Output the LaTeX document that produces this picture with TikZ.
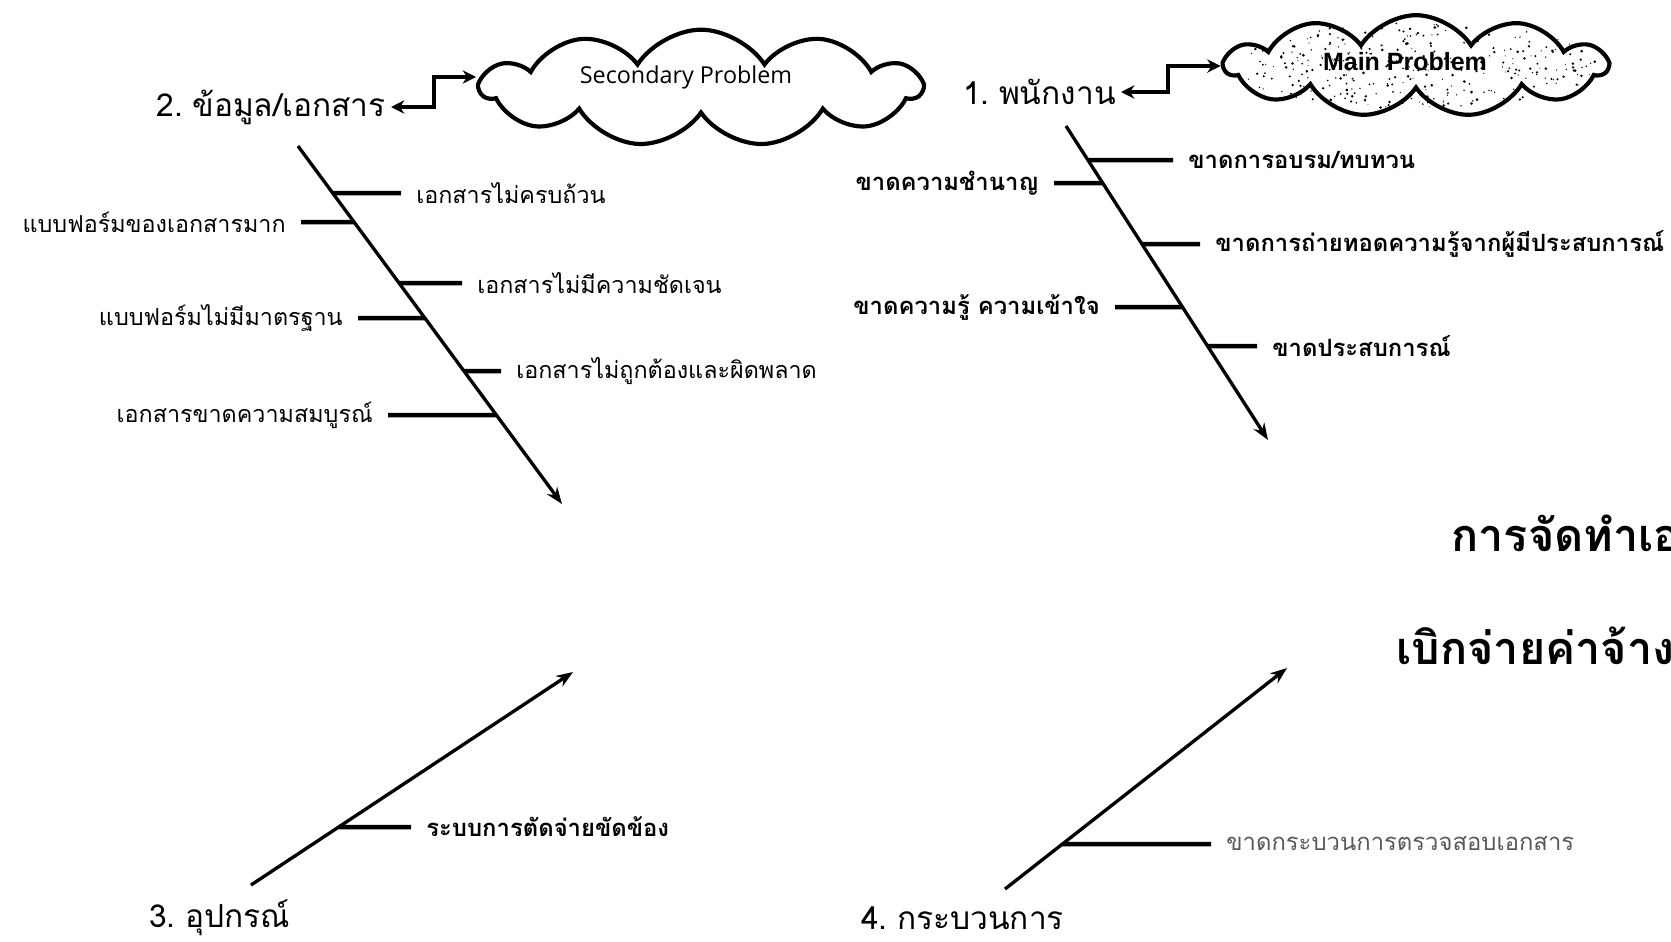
\documentclass[tikz,border=0pt]{standalone}
\usepackage{fontspec}
\setmainfont[Script=Thai]{Loma}
\newfontfamily\latinsans{Open Sans}
\newfontfamily\heavysans{Liberation Sans}
\usetikzlibrary{arrows.meta,shapes.symbols,calc}
\newcommand{\numsp}{\hspace{0.3em}}
\begin{document}
\begin{tikzpicture}[x=0.6pt,y=-0.6pt,
  bone/.style={line width=2pt,-{Stealth[length=10pt,width=7.5pt]}},
  twig/.style={line width=2.7pt,shorten >=9pt},
  link/.style={line width=2.3pt,shorten <=3pt,{Stealth[length=8pt,width=8pt]}-{Stealth[length=8pt,width=8pt]}},
  cat/.style={font=\fontsize{19}{23}\selectfont,inner sep=0pt},
  cause/.style={font=\fontsize{14}{17}\selectfont,inner sep=0pt},
  causeb/.style={font=\bfseries\fontsize{14.3}{17}\selectfont,inner sep=0pt},
  causel/.style={font=\fontsize{14.3}{17}\selectfont,text=black!65,inner sep=0pt},
  title/.style={font=\bfseries\fontsize{27}{32}\selectfont,inner sep=0pt},
  cloudbox/.style={cloud,cloud puffs=11,cloud puff arc=115,cloud ignores aspect,draw,line width=2.5pt,fill=white,inner sep=0pt},
]
\useasboundingbox (0,0) rectangle (1671,941);
\clip (0,0) rectangle (1671,941);

% ---- clouds
\node[cloudbox,minimum width=264pt,minimum height=70pt] (c2) at (701,88) {};
\node[font=\latinsans\fontsize{14}{17}\selectfont] (c2t) at (686,77) {Secondary Problem};
\node[cloudbox,minimum width=229pt,minimum height=61pt] (c1) at (1416,66) {};
\pgfmathsetseed{11}
\foreach \i in {1,...,340}{
  \pgfmathsetmacro\ang{360*rnd}
  \pgfmathsetmacro\rad{sqrt(rnd)}
  \pgfmathsetmacro\dr{0.3+0.6*rnd}
  \fill ($(c1.center)+(\ang:{\rad*182} and {\rad*43})$) circle (\dr pt);
}
\node[font=\heavysans\bfseries\fontsize{15}{18}\selectfont] (c1t) at (1405,62) {Main Problem};

% ---- category labels
\node[cat,anchor=east] (l2) at (386,107) {2.\numsp ข้อมูล/เอกสาร};
\node[cat,anchor=east] (l1) at (1116,92) {1.\numsp พนักงาน};
\node[cat,anchor=west] (l3) at (149,918) {3.\numsp อุปกรณ์};
\node[cat,anchor=west] (l4) at (861,918) {4.\numsp กระบวนการ};

\draw[link] (l2.east) -- ++(48,0) |- ($(c2.west)+(0,-11)$);
\draw[link] (l1.east) -- ++(52,0) |- (c1.west);

% ---- bones
\coordinate (s2) at (298,146); \coordinate (e2) at (562,504);
\coordinate (s1) at (1066,126); \coordinate (e1) at (1268,440);
\coordinate (s3) at (251,885); \coordinate (e3) at (573,672);
\coordinate (s4) at (1005,889); \coordinate (e4) at (1287,668);
\draw[bone] (s2) -- (e2);
\draw[bone] (s1) -- (e1);
\draw[bone] (s3) -- (e3);
\draw[bone] (s4) -- (e4);

% ---- causes of bone 2
\node[cause,anchor=west] (a1) at (416,193) {เอกสารไม่ครบถ้วน};
\node[cause,anchor=east] (a2) at (286,222) {แบบฟอร์มของเอกสารมาก};
\node[cause,anchor=west] (a3) at (477,283) {เอกสารไม่มีความชัดเจน};
\node[cause,anchor=east] (a4) at (343,318) {แบบฟอร์มไม่มีมาตรฐาน};
\node[cause,anchor=west] (a5) at (516,371) {เอกสารไม่ถูกต้องและผิดพลาด};
\node[cause,anchor=east] (a6) at (373,415) {เอกสารขาดความสมบูรณ์};
\foreach \n in {a1,a3,a5}
  \draw[twig] (intersection of s2--e2 and \n.west--\n.east) -- (\n.west);
\foreach \n in {a2,a4,a6}
  \draw[twig] (intersection of s2--e2 and \n.west--\n.east) -- (\n.east);

% ---- causes of bone 1
\node[causeb,anchor=west] (b1) at (1188,160) {ขาดการอบรม/ทบทวน};
\node[causeb,anchor=east] (b2) at (1039,183) {ขาดความชำนาญ};
\node[causeb,anchor=west] (b3) at (1215,244) {ขาดการถ่ายทอดความรู้จากผู้มีประสบการณ์};
\node[causeb,anchor=east] (b4) at (1100,307) {ขาดความรู้ ความเข้าใจ};
\node[causeb,anchor=west] (b5) at (1272,346) {ขาดประสบการณ์};
\foreach \n in {b1,b3,b5}
  \draw[twig] (intersection of s1--e1 and \n.west--\n.east) -- (\n.west);
\foreach \n in {b2,b4}
  \draw[twig] (intersection of s1--e1 and \n.west--\n.east) -- (\n.east);

% ---- bone 3 and 4
\node[causeb,anchor=west] (g1) at (426,827) {ระบบการตัดจ่ายขัดข้อง};
\draw[twig] (intersection of s3--e3 and g1.west--g1.east) -- (g1.west);
\node[causel,anchor=west] (d1) at (1226,844) {ขาดกระบวนการตรวจสอบเอกสาร};
\draw[twig] (intersection of s4--e4 and d1.west--d1.east) -- (d1.west);

% ---- title (cut by the right edge, as in the reference)
\node[title,anchor=west] (t1) at (1451,533) {การจัดทำเอก};
\node[title,anchor=west] (t2) at (1396,646) {เบิกจ่ายค่าจ้างผ};
\end{tikzpicture}
\end{document}
